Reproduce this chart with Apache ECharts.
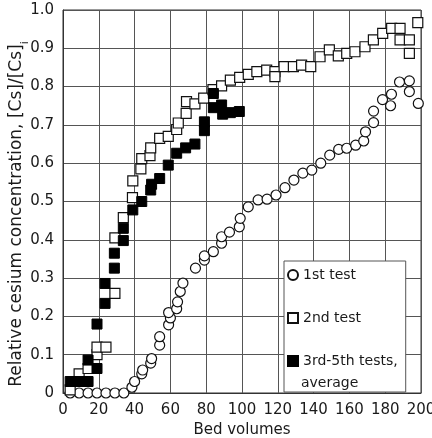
<!DOCTYPE html>
<html>
<head>
<meta charset="utf-8">
<script src="https://cdn.jsdelivr.net/npm/echarts@6/dist/echarts.min.js"></script>
<style>
  html, body { margin: 0; padding: 0; background: #fff; }
  #chart { width: 432px; height: 438px; }
</style>
</head>
<body>
<div id="chart"></div>
<script>
// [bed volumes, relative concentration]
var firstTest = [
  [4,0],[9,0],[14,0],[19,0],[24,0],[29,0],[34,0],[38.5,0.015],[40,0.03],[44,0.05],[44.5,0.06],
  [49,0.078],[49.5,0.09],[54,0.125],[54,0.147],[59,0.178],[60,0.196],[59,0.21],[63.5,0.22],
  [64,0.238],[65.5,0.265],[67,0.287],[74,0.326],[79,0.347],[79,0.358],[84,0.369],[88.6,0.391],
  [88.6,0.408],[93,0.42],[98.5,0.434],[99,0.456],[103.5,0.486],[109,0.504],[114,0.506],
  [119,0.517],[124,0.536],[129,0.556],[134,0.574],[139,0.582],[144,0.6],[149,0.621],
  [154,0.636],[158.5,0.639],[163.5,0.647],[168,0.658],[169,0.682],[173.5,0.706],[173.5,0.736],
  [178.5,0.766],[183,0.75],[183.5,0.78],[188,0.812],[193.5,0.815],[193.5,0.787],[198.5,0.756]
];
var secondTest = [
  [4,0.008],[9,0.05],[14,0.064],[19,0.1],[19,0.12],[24,0.12],[29,0.26],[29,0.405],[33.7,0.458],
  [38.8,0.51],[39,0.554],[43.5,0.585],[44,0.612],[48.6,0.62],[49,0.64],[54,0.665],[58.8,0.67],
  [63.5,0.688],[64.4,0.705],[68.8,0.73],[69,0.761],[73.7,0.755],[78.6,0.77],[83.8,0.792],
  [88.6,0.802],[93.5,0.817],[98.7,0.824],[103.5,0.832],[108.3,0.839],[113.8,0.843],[118.4,0.839],
  [118.4,0.826],[123.5,0.852],[128.7,0.852],[133.3,0.856],[138.4,0.852],[143.6,0.878],
  [148.8,0.896],[153.8,0.88],[158.5,0.887],[163.1,0.891],[168.7,0.904],[173.4,0.922],
  [178.6,0.939],[183.6,0.952],[188.3,0.952],[188.3,0.922],[193.5,0.922],[193.5,0.887],[198.2,0.967]
];
var avgTests = [
  [4,0.03],[9,0.03],[14,0.03],[14,0.086],[19,0.064],[19,0.18],[23.5,0.234],[23.5,0.286],
  [28.7,0.326],[28.7,0.365],[33.7,0.398],[33.7,0.43],[39,0.478],[44,0.5],[49,0.53],[49.5,0.545],
  [54,0.56],[58.8,0.595],[63.5,0.626],[68.5,0.64],[73.7,0.65],[79,0.685],[79,0.708],[84,0.745],
  [84,0.782],[88.6,0.752],[89.2,0.728],[93.5,0.732],[98.5,0.735]
];
var seriesNames = ['1st test', '2nd test', '3rd-5th tests,'];

var font = 'DejaVu Sans, sans-serif';
var ink = '#1a1a1a';
var chart = echarts.init(document.getElementById('chart'));

chart.setOption({
  animation: false,
  backgroundColor: '#fff',
  textStyle: { fontFamily: font },
  grid: {
    left: 63, right: 11, top: 10, bottom: 45,
    outerBoundsMode: 'none',
    show: true, borderColor: '#333', borderWidth: 1
  },
  legend: {
    orient: 'vertical',
    left: 284,
    top: 261,
    padding: [6, 8, 23, 3],
    itemGap: 27,
    itemWidth: 10,
    itemHeight: 10,
    backgroundColor: '#fff',
    borderColor: '#555',
    borderWidth: 1,
    textStyle: { fontFamily: font, fontSize: 14, color: ink, lineHeight: 16 },
    data: seriesNames
  },
  graphic: [
    // second line of the last legend entry
    {
      type: 'text', left: 301, top: 376, z: 100,
      style: { text: 'average', font: '14px DejaVu Sans', fill: ink }
    },
    // y axis title (with subscript i)
    {
      type: 'text', x: 17, y: 214, rotation: Math.PI / 2, z: 100,
      style: {
        text: '{a|Relative cesium concentration, [Cs]/[Cs]}{b|i}',
        align: 'center', verticalAlign: 'middle',
        rich: {
          a: { fontSize: 17, fill: ink, fontFamily: font },
          b: { fontSize: 11, fill: ink, fontFamily: font, verticalAlign: 'bottom', padding: [0, 0, -5, 0] }
        }
      }
    }
  ],
  xAxis: {
    type: 'value',
    min: 0, max: 200, interval: 20,
    name: 'Bed volumes',
    nameLocation: 'middle',
    nameGap: 27,
    nameTextStyle: { fontSize: 15, color: ink, fontFamily: font },
    axisLine: { lineStyle: { color: '#333' } },
    axisTick: { show: false },
    axisLabel: { fontSize: 15, color: ink, margin: 10 },
    splitLine: { show: true, lineStyle: { color: '#555', width: 1 } }
  },
  yAxis: {
    type: 'value',
    min: 0, max: 1, interval: 0.1,
    axisLine: { lineStyle: { color: '#333' } },
    axisTick: { show: false },
    axisLabel: {
      fontSize: 15, color: ink, margin: 9,
      formatter: function (v) { return v === 0 ? '0' : v.toFixed(1); }
    },
    splitLine: { show: true, lineStyle: { color: '#555', width: 1 } }
  },
  series: [
    {
      name: seriesNames[0], type: 'scatter', symbol: 'circle', symbolSize: 10,
      itemStyle: { color: '#fff', borderColor: '#111', borderWidth: 1.2, opacity: 1 },
      data: firstTest
    },
    {
      name: seriesNames[1], type: 'scatter', symbol: 'rect', symbolSize: 10,
      itemStyle: { color: '#fff', borderColor: '#111', borderWidth: 1.2, opacity: 1 },
      data: secondTest
    },
    {
      name: seriesNames[2], type: 'scatter', symbol: 'rect', symbolSize: 10,
      itemStyle: { color: '#000', borderColor: '#000', borderWidth: 1, opacity: 1 },
      data: avgTests
    }
  ]
});
</script>
</body>
</html>
